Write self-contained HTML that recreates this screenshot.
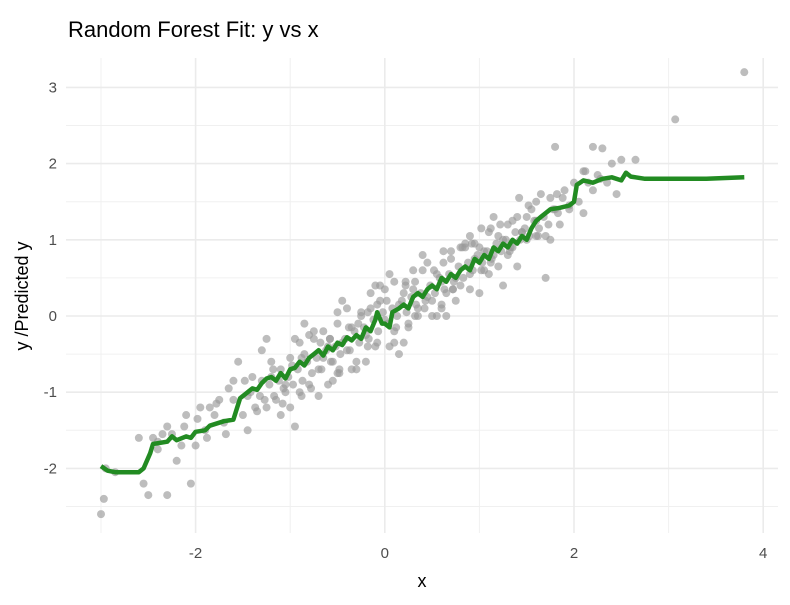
<!DOCTYPE html>
<html><head><meta charset="utf-8"><style>
body{margin:0;background:#fff;}
svg{display:block;font-family:"Liberation Sans",Arial,sans-serif;}
</style></head><body>
<svg id="chart" width="790" height="605" viewBox="0 0 790 605">
<rect width="790" height="605" fill="#fff"/>
<g id="grid"></g>
<g id="points"></g>
<g id="fit"></g>
<g id="axes"></g>
<text x="68" y="37" font-size="22" fill="#000">Random Forest Fit: y vs x</text>
<text x="422" y="587" font-size="18" text-anchor="middle" fill="#000">x</text>
<text transform="translate(28,296) rotate(-90)" font-size="18" text-anchor="middle" fill="#000">y /Predicted y</text>
</svg>
<script>
const xTicks=[-2,0,2,4];
const yTicks=[-2,-1,0,1,2,3];
const xMinor=[-3,-1,1,3];
const yMinor=[-2.5,-1.5,-0.5,0.5,1.5,2.5];
const ptX=[3.8,3.07,-3,-2.97,-2.5,-2.55,-2.3,-2.35,-2.95,-2.85,-2.4,-2.2,-2.15,-2.05,-2.1,-1.9,-1.8,-1.7,-1.6,-1.55,-1.5,-1.45,-1.35,-1.3,-1.25,-1.2,-1.15,-1.1,-1.05,-1,-0.95,-0.9,-0.85,-0.8,-0.75,-0.7,-0.65,-0.6,-0.55,-0.5,-0.45,-0.4,-0.35,-0.3,-0.25,-0.2,-0.15,-0.1,-0.05,0,0.05,0.1,0.15,0.2,0.25,0.3,0.35,0.4,0.45,0.5,0.55,0.6,0.65,0.7,0.75,0.8,0.85,0.9,0.95,1,1.05,1.1,1.15,1.2,1.25,1.3,1.35,1.4,1.45,1.5,1.55,1.6,1.65,1.7,1.75,1.8,1.85,1.9,1.95,2,2.05,2.1,2.2,2.3,2.4,2.5,2.65,2.35,2.2,1.8,-1.75,-1.4,-1.2,-1,-0.8,-0.6,-0.4,-0.2,0,0.2,0.4,0.6,0.8,1,1.2,1.4,1.6,-1.3,-1.1,-0.9,-0.7,-0.5,-0.3,-0.1,0.1,0.3,0.5,0.7,0.9,1.1,1.3,1.5,1.7,-0.95,-0.65,-0.35,-0.05,0.25,0.55,0.85,1.15,1.45,-2.3,-2.0,-1.6,-1.85,-1.45,-0.5,-0.25,0.15,0.45,0.75,1.05,1.35,1.75,2.1,-0.15,0.05,0.35,-0.45,-0.75,0.65,0.95,1.25,-1.05,-0.85,-0.55,0.1,0.6,0.9,1.6,-2.6,-1.95,-1.65,-1.25,1.95,2.25,2.45,
-1.42,-1.32,-1.22,-1.12,-1.02,-0.92,-0.82,-0.72,-0.62,-0.52,-0.42,-0.32,-0.22,-0.12,-0.02,0.08,0.18,0.28,0.38,0.48,0.58,0.68,0.78,0.88,0.98,1.08,1.18,1.28,1.38,1.48,1.58,1.68,1.78,1.88,
-1.37,-1.27,-1.17,-1.07,-0.97,-0.87,-0.77,-0.67,-0.57,-0.47,-0.37,-0.27,-0.17,-0.07,0.03,0.13,0.23,0.33,0.43,0.53,0.63,0.73,0.83,0.93,1.03,1.13,1.23,1.33,1.43,1.53,1.63,1.73,1.83,
-1.48,-1.18,-0.88,-0.58,-0.28,0.02,0.32,0.62,0.92,1.22,1.52,1.82,-1.08,-0.78,-0.48,-0.18,0.12,0.42,0.72,1.02,1.32,1.62,-0.68,-0.38,-0.08,0.22,0.52,0.82,1.12,
-0.98,-0.58,-0.18,0.22,0.62,1.02,1.42,-0.88,-0.48,-0.08,0.32,0.72,1.12,-2.25,-2.12,-1.98,-1.88,-1.78,-1.68,-2.45,-2.4,2.15,2.28,2.12];
const ptY=[3.2,2.58,-2.6,-2.4,-2.35,-2.2,-2.35,-1.55,-2.0,-2.05,-1.65,-1.9,-1.7,-2.2,-1.3,-1.5,-1.3,-1.4,-1.1,-0.6,-1.3,-1.05,-1.25,-0.85,-1.2,-0.8,-1.1,-0.7,-0.9,-0.55,-1.45,-1.0,-0.5,-0.9,-0.3,-0.7,-0.55,-0.4,-0.6,-0.1,-0.35,-0.45,-0.15,-0.6,0.0,-0.25,0.1,-0.4,0.2,-0.05,0.55,-0.2,0.15,0.3,-0.1,0.35,0.1,0.6,0.25,0.2,0.55,0.45,0.3,0.75,0.5,0.4,0.95,0.55,0.75,0.9,0.6,1.1,0.8,0.65,1.0,1.2,0.9,1.3,1.1,1.0,1.4,1.25,1.6,1.05,1.55,1.4,1.2,1.65,1.45,1.75,1.5,1.9,1.65,2.2,2.0,2.05,2.05,1.75,2.22,2.22,-1.1,-0.8,-0.6,-1.2,-0.25,-0.9,0.1,-0.6,0.35,-0.35,0.8,0.15,0.9,0.3,1.05,0.65,1.5,-0.45,-1.3,-0.35,-1.05,0.05,-0.7,0.4,-0.35,0.6,0.0,0.85,0.35,0.55,0.8,1.3,0.5,-0.3,-0.2,-0.7,0.4,-0.15,0.0,0.9,1.3,1.1,-1.45,-1.7,-0.85,-1.2,-1.5,-0.75,0.05,-0.5,0.7,0.2,0.85,1.25,1.0,1.35,0.3,-0.4,0.0,0.2,-0.2,0.0,0.95,0.4,-1.0,-0.1,-0.85,0.45,0.1,1.05,1.05,-1.6,-1.2,-0.95,-0.3,1.4,1.85,1.6,
-1.0,-1.05,-0.9,-0.85,-0.8,-0.7,-0.6,-0.55,-0.45,-0.4,-0.3,-0.2,-0.15,-0.05,0.05,0.1,0.2,0.25,0.3,0.4,0.5,0.55,0.65,0.7,0.8,0.85,0.95,1.0,1.1,1.15,1.25,1.3,1.4,1.55,
-1.2,-1.1,-1.05,-0.95,-0.9,-0.85,-0.75,-0.7,-0.6,-0.5,-0.45,-0.35,-0.3,-0.2,-0.1,0.0,0.05,0.15,0.2,0.3,0.35,0.45,0.5,0.6,0.7,0.75,0.85,0.9,1.0,1.05,1.15,1.2,1.35,
-0.85,-0.7,-0.55,-0.3,-0.1,0.2,0.45,0.7,0.95,1.2,1.45,1.6,-1.15,-0.95,-0.7,-0.4,-0.15,0.1,0.35,0.6,0.85,1.05,-0.35,-0.15,0.15,0.4,0.6,0.9,1.15,
-0.65,-0.3,0.05,0.45,0.85,1.15,1.55,-1.05,-0.75,-0.35,0.0,0.35,0.7,-1.55,-1.45,-1.35,-1.6,-1.15,-1.55,-1.6,-1.75,1.75,1.8,1.9];
const fitX=[-3,-2.93,-2.85,-2.6,-2.55,-2.48,-2.45,-2.3,-2.25,-2.2,-2.1,-2.05,-2.0,-1.9,-1.85,-1.8,-1.7,-1.6,-1.56,-1.53,-1.45,-1.4,-1.35,-1.3,-1.25,-1.2,-1.15,-1.1,-1.05,-1.0,-0.95,-0.9,-0.85,-0.8,-0.75,-0.7,-0.65,-0.6,-0.55,-0.5,-0.45,-0.4,-0.35,-0.3,-0.25,-0.2,-0.15,-0.1,-0.08,-0.03,0,0.05,0.08,0.15,0.2,0.25,0.3,0.35,0.4,0.45,0.5,0.55,0.6,0.65,0.7,0.75,0.8,0.85,0.9,0.95,1.0,1.05,1.1,1.15,1.2,1.25,1.3,1.35,1.4,1.45,1.5,1.55,1.6,1.65,1.7,1.75,1.85,1.95,2.0,2.03,2.1,2.2,2.3,2.4,2.5,2.55,2.6,2.75,3.0,3.4,3.8];
const fitY=[-1.97,-2.03,-2.05,-2.05,-2.0,-1.8,-1.68,-1.65,-1.58,-1.63,-1.58,-1.6,-1.52,-1.5,-1.44,-1.42,-1.38,-1.36,-1.2,-1.08,-1.0,-0.95,-0.97,-0.88,-0.82,-0.8,-0.85,-0.75,-0.82,-0.7,-0.68,-0.6,-0.65,-0.55,-0.5,-0.45,-0.52,-0.4,-0.45,-0.35,-0.38,-0.28,-0.32,-0.25,-0.3,-0.15,-0.2,-0.05,0.05,-0.1,-0.1,-0.15,0.05,0.1,0.15,0.1,0.25,0.3,0.25,0.35,0.4,0.35,0.5,0.45,0.55,0.5,0.6,0.65,0.6,0.75,0.7,0.8,0.75,0.9,0.85,0.95,0.9,1.0,0.95,1.05,1.0,1.15,1.25,1.3,1.35,1.4,1.42,1.45,1.5,1.72,1.78,1.75,1.8,1.82,1.78,1.88,1.83,1.8,1.8,1.8,1.82];
const NS='http://www.w3.org/2000/svg';
const L=66,R=778,T=58,B=533;
function sx(v){return 384.8+v*94.6;}
function sy(v){return 316-v*76.2;}
function mk(t,a,p){const e=document.createElementNS(NS,t);for(const k in a)e.setAttribute(k,a[k]);p.appendChild(e);return e;}
const grid=document.getElementById('grid'),axes=document.getElementById('axes');
xMinor.forEach(v=>{const e=mk('line',{x1:sx(v),x2:sx(v),y1:T,y2:B,stroke:'#f0f0f0','stroke-width':1},grid);});
yMinor.forEach(v=>{const e=mk('line',{x1:L,x2:R,y1:sy(v),y2:sy(v),stroke:'#f0f0f0','stroke-width':1},grid);});
xTicks.forEach(v=>{const e=mk('line',{x1:sx(v),x2:sx(v),y1:T,y2:B,stroke:'#ebebeb','stroke-width':1.6},grid);
const t=mk('text',{x:sx(v),y:558,'font-size':15,'text-anchor':'middle',fill:'#4d4d4d'},axes);t.textContent=v;});
yTicks.forEach(v=>{const e=mk('line',{x1:L,x2:R,y1:sy(v),y2:sy(v),stroke:'#ebebeb','stroke-width':1.6},grid);
const t=mk('text',{x:57,y:sy(v)+5,'font-size':15,'text-anchor':'end',fill:'#4d4d4d'},axes);t.textContent=v;});
const pts=document.getElementById('points');
ptX.forEach((x,i)=>{const c=mk('circle',{cx:sx(x),cy:sy(ptY[i]),r:4,fill:'#999999','fill-opacity':0.65},pts);});
const d=fitX.map((x,i)=>(i?'L':'M')+sx(x).toFixed(1)+','+sy(fitY[i]).toFixed(1)).join('');
const p=mk('path',{d:d,fill:'none',stroke:'#228B22','stroke-width':4.5,'stroke-linejoin':'round'},document.getElementById('fit'));


</script>
</body></html>
